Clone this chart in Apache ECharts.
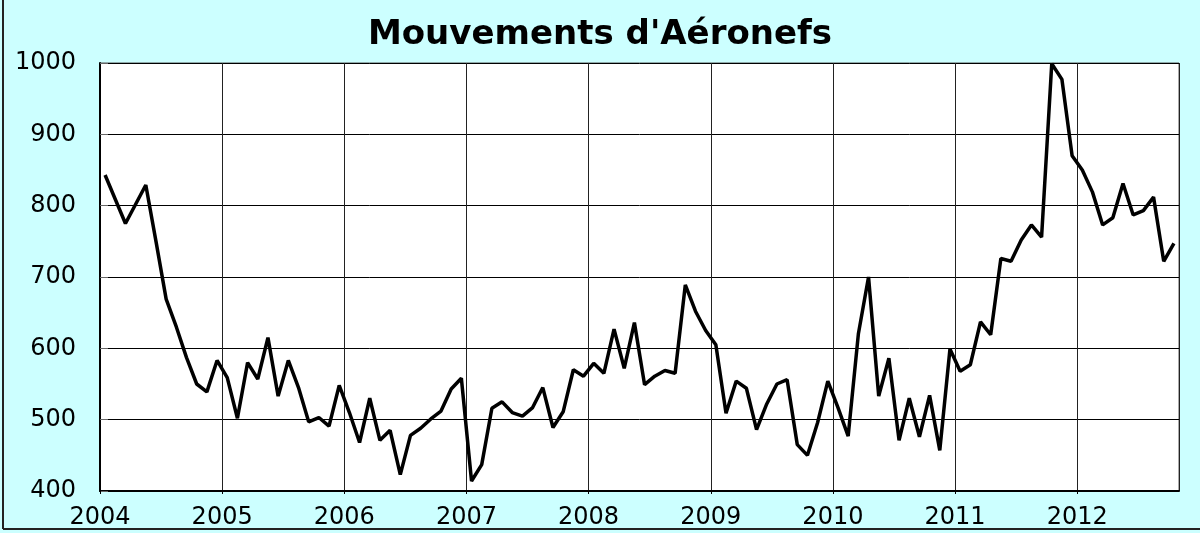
<!DOCTYPE html>
<html>
<head>
<meta charset="utf-8">
<title>Mouvements d'Aéronefs</title>
<script src="https://cdn.jsdelivr.net/npm/echarts@6/dist/echarts.min.js"></script>
<style>
  html, body { margin: 0; padding: 0; background: #ccffff; }
  #chart { width: 1200px; height: 533px; }
</style>
</head>
<body>
<div id="chart"></div>
<script>
// year labels on the x axis (one gridline per January)
var yearLabels = ['2004', '2005', '2006', '2007', '2008', '2009', '2010', '2011', '2012'];

// monthly movements
var mvt2004 = [843, 809, 775, 802, 829, 750, 669, 630, 587, 550, 539, 583];
var mvt2005 = [559, 502, 580, 557, 615, 533, 583, 545, 497, 503, 491, 548];
var mvt2006 = [510, 468, 530, 471, 485, 423, 478, 488, 501, 512, 543, 558];
var mvt2007 = [414, 437, 516, 525, 510, 505, 517, 545, 489, 511, 570, 561];
var mvt2008 = [579, 565, 627, 572, 636, 549, 561, 569, 565, 689, 652, 625];
var mvt2009 = [605, 509, 554, 544, 486, 522, 550, 556, 465, 450, 496, 554];
var mvt2010 = [517, 477, 620, 700, 533, 586, 471, 530, 476, 534, 457, 599];
var mvt2011 = [568, 577, 637, 619, 726, 722, 752, 773, 756, 999, 977, 870];
var mvt2012 = [850, 819, 773, 783, 831, 787, 793, 812, 722, 747];

var yTicks = [400, 500, 600, 700, 800, 900, 1000];

var allValues = [].concat(mvt2004, mvt2005, mvt2006, mvt2007, mvt2008,
                          mvt2009, mvt2010, mvt2011, mvt2012);
var nbMonths = yearLabels.length * 12 - 2; // axis ends after oct 2012

// each point sits in the middle of its month
var lineData = allValues.map(function (v, i) { return [i + 0.5, v]; });

var chart = echarts.init(document.getElementById('chart'));
chart.setOption({
  backgroundColor: '#ccffff',
  animation: false,
  title: {
    text: "Mouvements d'Aéronefs",
    left: 'center',
    top: 13,
    textStyle: {
      color: '#000',
      fontFamily: 'DejaVu Sans',
      fontWeight: 'bold',
      fontSize: 34
    }
  },
  // frame of the picture: only left and bottom edges show
  graphic: [{
    type: 'line',
    silent: true,
    shape: { x1: 3, y1: 0, x2: 3, y2: 529 },
    style: { stroke: '#222', lineWidth: 2 }
  }, {
    type: 'line',
    silent: true,
    shape: { x1: 3, y1: 529, x2: 1200, y2: 529 },
    style: { stroke: '#222', lineWidth: 2 }
  }],
  grid: {
    left: 100,
    top: 63,
    right: 21,
    bottom: 42,
    show: true,
    backgroundColor: '#fff',
    borderColor: '#555',
    borderWidth: 1
  },
  xAxis: {
    type: 'value',
    min: 0,
    max: nbMonths,
    interval: 12,
    axisLine: { show: true, lineStyle: { color: '#000', width: 2 } },
    axisTick: { show: true, length: 3, lineStyle: { color: '#000' } },
    axisLabel: {
      margin: 15,
      color: '#000',
      fontFamily: 'DejaVu Sans',
      fontSize: 24,
      showMaxLabel: false,
      formatter: function (v) {
        return v % 12 === 0 ? yearLabels[v / 12] : '';
      }
    },
    splitLine: { show: true, lineStyle: { color: '#222', width: 1 } }
  },
  yAxis: {
    type: 'value',
    min: yTicks[0],
    max: yTicks[yTicks.length - 1],
    interval: 100,
    axisLine: { show: true, lineStyle: { color: '#000', width: 2 } },
    axisTick: { show: true, inside: true, length: 8, lineStyle: { color: '#666' } },
    axisLabel: {
      margin: 24,
      color: '#000',
      fontFamily: 'DejaVu Sans',
      fontSize: 24,
      formatter: function (v) { return String(v); }
    },
    splitLine: { show: true, lineStyle: { color: '#000', width: 1 } }
  },
  series: [{
    name: 'Mouvements',
    type: 'line',
    data: lineData,
    showSymbol: false,
    lineStyle: { color: '#000', width: 3.5 },
    clip: false
  }]
});
</script>
</body>
</html>
